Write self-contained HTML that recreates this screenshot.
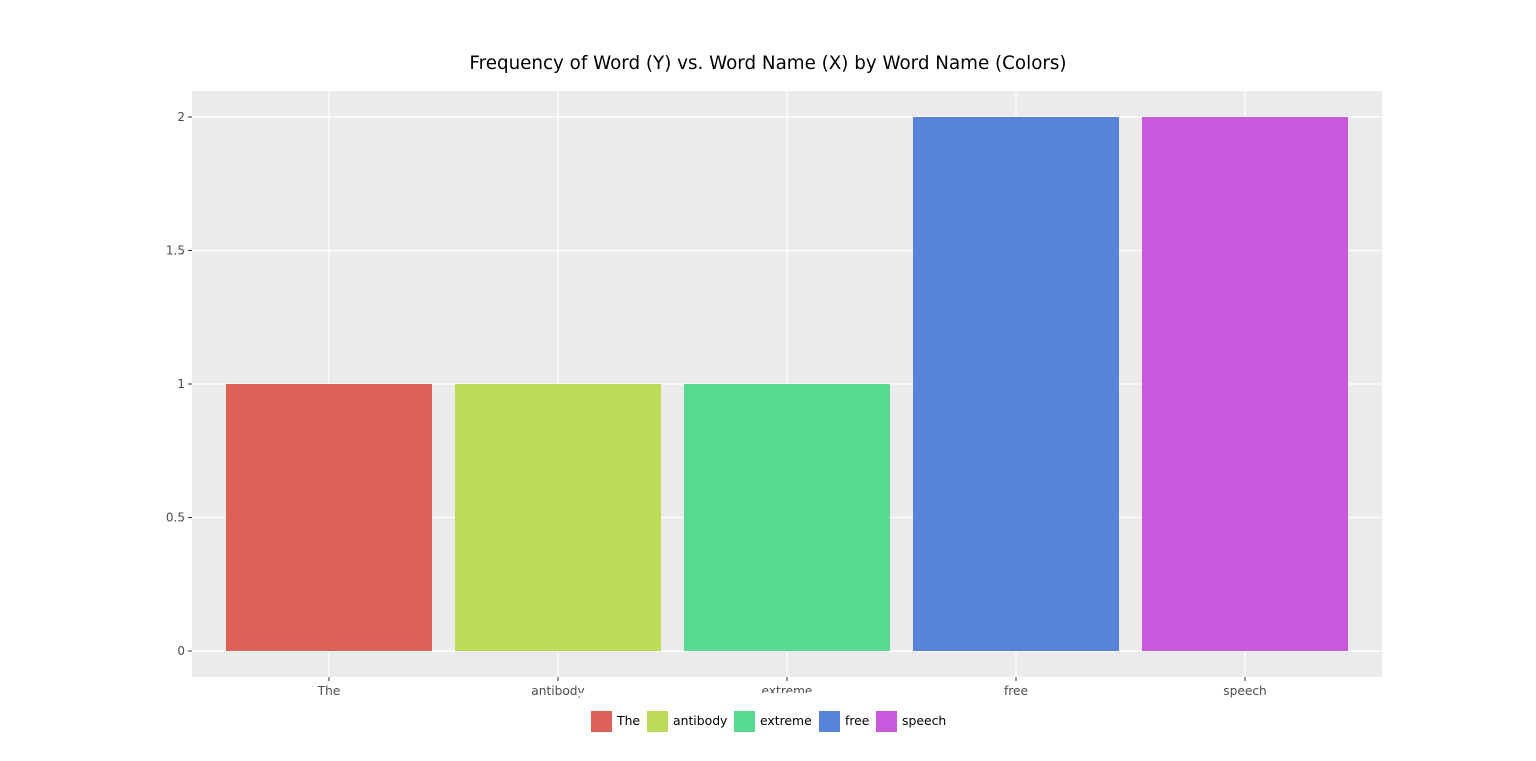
<!DOCTYPE html>
<html><head><meta charset="utf-8"><style>
html,body{margin:0;padding:0;background:#fff;}
svg{display:block;font-family:"DejaVu Sans","Liberation Sans",sans-serif;}
</style></head><body>
<svg id="chart" width="1536" height="761">
<text x="768" y="69" text-anchor="middle" font-size="18.3" fill="#000">Frequency of Word (Y) vs. Word Name (X) by Word Name (Colors)</text>
<rect x="192" y="91" width="1190" height="586" fill="#ebebeb"/>
<g id="grid"></g><g id="bars"></g><g id="axes"></g><g id="legend"></g>
</svg>
<script>
const categories = ["The","antibody","extreme","free","speech"];
const values = [1,1,1,2,2];
const colors = ["#dd6157","#bcdc59","#57d992","#5784da","#c858dc"];
const yTicks = [0,0.5,1,1.5,2];
const yTickLabels = ["0","0.5","1","1.5","2"];
const NS="http://www.w3.org/2000/svg";
function mk(t,a,p){const e=document.createElementNS(NS,t);for(const k in a)e.setAttribute(k,a[k]);p.appendChild(e);return e;}
const y0=651, yUnit=267;
function yS(v){return y0-v*yUnit;}
const step=229, x0=329;
function xS(i){return x0+i*step;}
const bw=206;
const grid=document.getElementById('grid'),bars=document.getElementById('bars'),axes=document.getElementById('axes'),legend=document.getElementById('legend');
yTicks.forEach((t,i)=>{
  const l=mk('line',{x1:192,x2:1382,y1:yS(t),y2:yS(t),stroke:'#fff','stroke-width':1.2},grid);
  
  
  const tk=mk('line',{x1:188,x2:192,y1:yS(t),y2:yS(t),stroke:'#333','stroke-width':1},axes);
  
  
  const tx=mk('text',{x:185,y:yS(t)+4,'text-anchor':'end','font-size':12,fill:'#4d4d4d'},axes);
  tx.textContent=yTickLabels[i];
  
  
});
categories.forEach((c,i)=>{
  const g=mk('line',{x1:xS(i),x2:xS(i),y1:91,y2:677,stroke:'#fff','stroke-width':1.2},grid);
  
  
  const b=mk('rect',{x:xS(i)-bw/2,y:yS(values[i]),width:bw,height:yS(0)-yS(values[i]),fill:colors[i]},bars);
  
  
  const tk=mk('line',{x1:xS(i),x2:xS(i),y1:677,y2:681,stroke:'#333','stroke-width':1},axes);
  
  
  const tx=mk('text',{x:xS(i),y:695,'text-anchor':'middle','font-size':12.2,fill:'#4d4d4d'},axes);
  tx.textContent=c;
  
  
});
const lb=mk('rect',{x:580,y:693,width:376,height:50,fill:'#fff'},legend);


const lx=[591,647,734,819,876];
categories.forEach((c,i)=>{
  const s=mk('rect',{x:lx[i],y:711,width:21,height:21,fill:colors[i]},legend);
  
  
  const t=mk('text',{x:lx[i]+26,y:725,'font-size':12.4,fill:'#000'},legend);
  t.textContent=c;
  
  
});
</script>
</body></html>
